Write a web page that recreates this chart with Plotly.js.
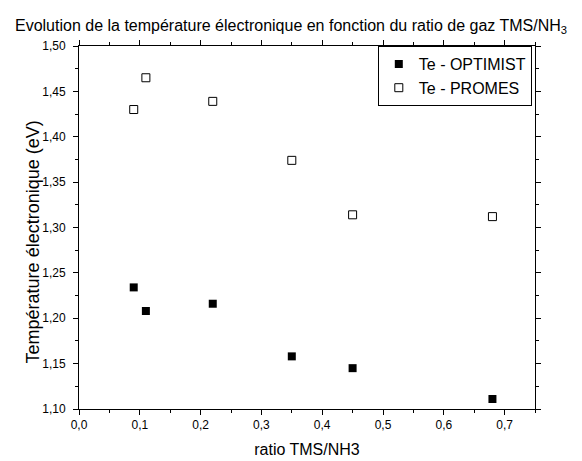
<!DOCTYPE html>
<html>
<head>
<meta charset="utf-8">
<script src="https://cdn.plot.ly/plotly-3.0.1.min.js"></script>
<style>
  html, body { margin: 0; padding: 0; background: #fff; }
  #chart { width: 582px; height: 461px; }
</style>
</head>
<body>
<div id="chart"></div>
<script>
// Data
const ratioTMS = [0.09, 0.11, 0.22, 0.35, 0.45, 0.68];
const teOptimist = [1.234, 1.208, 1.216, 1.158, 1.145, 1.111];
const tePromes = [1.430, 1.465, 1.439, 1.374, 1.314, 1.312];
const seriesNames = ['Te - OPTIMIST', 'Te - PROMES'];
const yTitle = 'Température électronique (eV)';

const FONT = 'Arial, "Liberation Sans", Helvetica, sans-serif';

const traces = [
  {
    x: ratioTMS, y: teOptimist, name: seriesNames[0],
    type: 'scatter', mode: 'markers',
    marker: { symbol: 'square', size: 8, color: '#000000', line: { width: 0 } }
  },
  {
    x: ratioTMS, y: tePromes, name: seriesNames[1],
    type: 'scatter', mode: 'markers',
    marker: { symbol: 'square-open', size: 8, color: '#000000', line: { width: 1, color: '#000000' } }
  }
];

const axisCommon = {
  showline: true, linecolor: '#000', linewidth: 1,
  mirror: 'ticks', ticks: 'outside', ticklen: 5, tickwidth: 1, tickcolor: '#000',
  showgrid: false, zeroline: false,
  tickfont: { family: FONT, size: 12, color: '#000' }
};

const layout = {
  width: 582, height: 461,
  margin: { l: 79, r: 47, t: 46, b: 52 },
  paper_bgcolor: '#fff', plot_bgcolor: '#fff',
  separators: ', ',
  showlegend: true,
  font: { family: FONT, color: '#000' },
  title: {
    text: 'Evolution de la température électronique en fonction du ratio de gaz TMS/NH<sub>3</sub>',
    font: { family: FONT, size: 16, color: '#000' },
    x: 0.5, xref: 'container', xanchor: 'center',
    y: 0.945, yref: 'container', yanchor: 'middle'
  },
  xaxis: Object.assign({}, axisCommon, {
    range: [0, 0.75], tick0: 0, dtick: 0.1, tickformat: '.1f',
    minor: { dtick: 0.05, ticks: 'outside', ticklen: 3, tickcolor: '#000', tickwidth: 1, showgrid: false },
    title: { text: 'ratio TMS/NH3', font: { family: FONT, size: 16, color: '#000' }, standoff: 12 }
  }),
  yaxis: Object.assign({}, axisCommon, {
    range: [1.10, 1.50], tick0: 1.10, dtick: 0.05, tickformat: '.2f',
    ticklabelstandoff: 5,
    minor: { dtick: 0.025, ticks: 'outside', ticklen: 3, tickcolor: '#000', tickwidth: 1, showgrid: false }
  }),
  annotations: [{
    text: yTitle, textangle: -90,
    xref: 'paper', yref: 'paper', x: -0.1, y: 0.46,
    xanchor: 'center', yanchor: 'middle', showarrow: false,
    font: { family: FONT, size: 18, color: '#000' }
  }],
  legend: {
    x: 0.993, xanchor: 'right', y: 1.0, yanchor: 'top',
    bgcolor: '#fff', bordercolor: '#000', borderwidth: 1,
    font: { family: FONT, size: 16, color: '#000' },
    tracegroupgap: 0, itemwidth: 30
  }
};

Plotly.newPlot('chart', traces, layout, { displayModeBar: false, staticPlot: true });
</script>
</body>
</html>
